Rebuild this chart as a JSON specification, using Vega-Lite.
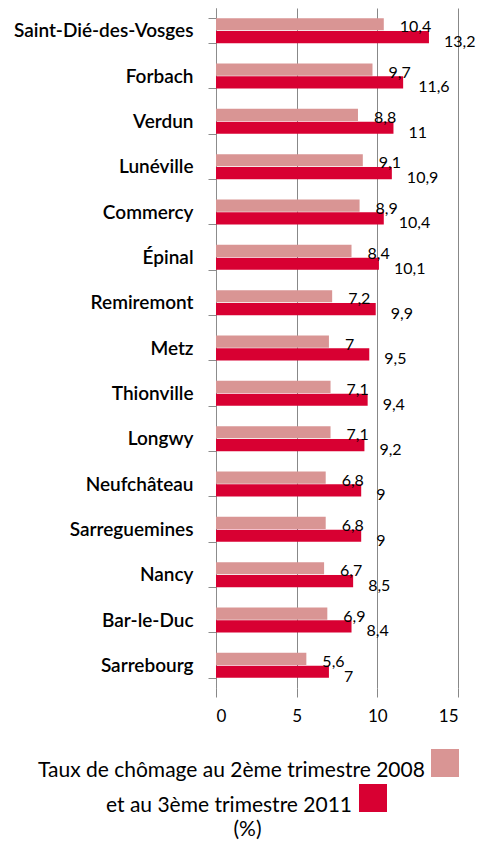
{
  "$schema": "https://vega.github.io/schema/vega-lite/v6.json",
  "width": 242,
  "height": 680,
  "autosize": {"type": "none"},
  "padding": {"left": 216, "top": 8, "right": 19, "bottom": 156},
  "background": "white",
  "config": {
    "view": {"stroke": null},
    "font": "Lato",
    "locale": {"number": {"decimal": ",", "thousands": "\u00a0", "grouping": [3], "currency": ["", " €"]}}
  },
  "data": {
    "values": [
      {"city": "Saint-Dié-des-Vosges", "series": "2008", "value": 10.4},
      {"city": "Saint-Dié-des-Vosges", "series": "2011", "value": 13.2},
      {"city": "Forbach", "series": "2008", "value": 9.7},
      {"city": "Forbach", "series": "2011", "value": 11.6},
      {"city": "Verdun", "series": "2008", "value": 8.8},
      {"city": "Verdun", "series": "2011", "value": 11},
      {"city": "Lunéville", "series": "2008", "value": 9.1},
      {"city": "Lunéville", "series": "2011", "value": 10.9},
      {"city": "Commercy", "series": "2008", "value": 8.9},
      {"city": "Commercy", "series": "2011", "value": 10.4},
      {"city": "Épinal", "series": "2008", "value": 8.4},
      {"city": "Épinal", "series": "2011", "value": 10.1},
      {"city": "Remiremont", "series": "2008", "value": 7.2},
      {"city": "Remiremont", "series": "2011", "value": 9.9},
      {"city": "Metz", "series": "2008", "value": 7},
      {"city": "Metz", "series": "2011", "value": 9.5},
      {"city": "Thionville", "series": "2008", "value": 7.1},
      {"city": "Thionville", "series": "2011", "value": 9.4},
      {"city": "Longwy", "series": "2008", "value": 7.1},
      {"city": "Longwy", "series": "2011", "value": 9.2},
      {"city": "Neufchâteau", "series": "2008", "value": 6.8},
      {"city": "Neufchâteau", "series": "2011", "value": 9},
      {"city": "Sarreguemines", "series": "2008", "value": 6.8},
      {"city": "Sarreguemines", "series": "2011", "value": 9},
      {"city": "Nancy", "series": "2008", "value": 6.7},
      {"city": "Nancy", "series": "2011", "value": 8.5},
      {"city": "Bar-le-Duc", "series": "2008", "value": 6.9},
      {"city": "Bar-le-Duc", "series": "2011", "value": 8.4},
      {"city": "Sarrebourg", "series": "2008", "value": 5.6},
      {"city": "Sarrebourg", "series": "2011", "value": 7}
    ]
  },
  "encoding": {
    "y": {
      "field": "city",
      "type": "nominal",
      "sort": null,
      "scale": {"paddingInner": 0.45, "paddingOuter": 0.225},
      "axis": {
        "title": null,
        "domainColor": "#8c8c8c",
        "tickColor": "#8c8c8c",
        "tickBand": "extent",
        "tickSize": 8,
        "labelFontSize": 19,
        "labelFontWeight": 600,
        "labelColor": "black",
        "labelPadding": 15,
        "labelLimit": 300,
        "grid": false
      }
    },
    "x": {
      "field": "value",
      "type": "quantitative",
      "scale": {"domain": [0, 15], "nice": false},
      "axis": {
        "title": "(%)",
        "values": [0, 5, 10, 15],
        "grid": true,
        "gridColor": "#888888",
        "gridOpacity": 1,
        "domain": false,
        "tickColor": "#888888",
        "tickSize": 9,
        "labelFontSize": 17,
        "labelColor": "black",
        "labelPadding": 11,
        "format": "d",
        "titleFontSize": 21,
        "titleFontWeight": "normal",
        "titleColor": "black",
        "titleBaseline": "alphabetic",
        "titleX": 31,
        "titleY": 147
      }
    },
    "yOffset": {"field": "series", "type": "nominal", "scale": {"domain": ["2008", "2011"], "paddingInner": 0.05}}
  },
  "layer": [
    {
      "transform": [{"filter": "datum.series === '2008'"}],
      "mark": {"type": "bar"},
      "encoding": {
        "color": {
          "field": "series",
          "type": "nominal",
          "scale": {"domain": ["2008"], "range": ["#D99594"]},
          "legend": {
            "title": "Taux de chômage au 2ème trimestre 2008",
            "titleOrient": "left",
            "titleAnchor": "end",
            "titleBaseline": "alphabetic",
            "orient": "none",
            "legendX": -178,
            "legendY": 741,
            "symbolType": "square",
            "symbolSize": 784,
            "symbolStrokeWidth": 0,
            "symbolOpacity": 1,
            "labelExpr": "''",
            "titleFontSize": 21,
            "titleFontWeight": "normal",
            "titleColor": "black",
            "titleLimit": 600,
            "titlePadding": 6,
            "padding": 0
          }
        }
      }
    },
    {
      "transform": [{"filter": "datum.series === '2011'"}],
      "mark": {"type": "bar"},
      "encoding": {
        "color": {
          "field": "series",
          "type": "nominal",
          "scale": {"domain": ["2011"], "range": ["#D80032"]},
          "legend": {
            "title": "et au 3ème trimestre 2011",
            "titleOrient": "left",
            "titleAnchor": "end",
            "titleBaseline": "alphabetic",
            "orient": "none",
            "legendX": -110,
            "legendY": 776,
            "symbolType": "square",
            "symbolSize": 784,
            "symbolStrokeWidth": 0,
            "symbolOpacity": 1,
            "labelExpr": "''",
            "titleFontSize": 21,
            "titleFontWeight": "normal",
            "titleColor": "black",
            "titleLimit": 600,
            "titlePadding": 6,
            "padding": 0
          }
        }
      }
    },
    {
      "transform": [{"filter": "datum.series === '2008'"}],
      "mark": {"type": "text", "align": "left", "baseline": "middle", "dx": 16, "dy": 3, "fontSize": 16, "color": "black"},
      "encoding": {"text": {"field": "value", "type": "quantitative", "format": ".1~f"}}
    },
    {
      "transform": [{"filter": "datum.series === '2011'"}],
      "mark": {"type": "text", "align": "left", "baseline": "middle", "dx": 15, "dy": 5, "fontSize": 16, "color": "black"},
      "encoding": {"text": {"field": "value", "type": "quantitative", "format": ".1~f"}}
    }
  ],
  "resolve": {"scale": {"color": "independent"}}
}
